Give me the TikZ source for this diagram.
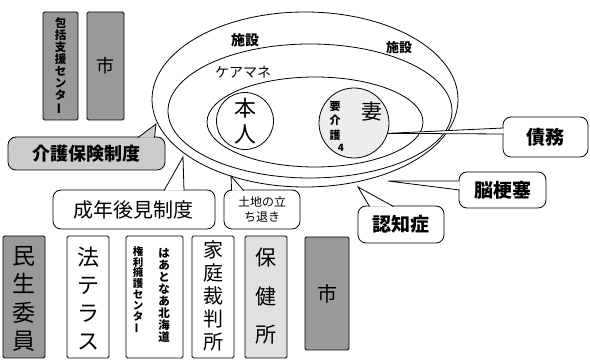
\documentclass[tikz,border=0pt]{standalone}
\usepackage{fontspec}
\setmainfont{Noto Sans CJK JP}
\usetikzlibrary{calc,shapes.geometric}
\definecolor{darkfill}{gray}{0.6}
\definecolor{midfill}{gray}{0.8}
\definecolor{lightfill}{gray}{0.88}
\definecolor{palefill}{gray}{0.93}
\newcommand{\tatebar}{\rotatebox[origin=c]{90}{ー}}
\newcommand{\calltail}[4]{\fill[#1] (#2) -- (#3) -- (#4) -- cycle; \draw (#2) -- (#3) -- (#4);}
\tikzset{
  tallbox/.style={draw, line width=0.8pt, rounded corners=1.5pt, inner sep=0pt, align=center},
  callbox/.style={draw, line width=0.8pt, rounded corners=8pt, inner sep=0pt, fill=white, align=center},
  ring/.style={draw, line width=0.8pt, ellipse, inner sep=0pt},
  roundring/.style={draw, line width=0.8pt, circle, inner sep=0pt},
  lbl/.style={inner sep=0pt, align=center},
}
\begin{document}
\begin{tikzpicture}[x=1pt,y=-1pt,line width=0.8pt]
\useasboundingbox (0,0) rectangle (590,363);
\fill[white] (0,0) rectangle (590,363);

% top boxes
\node[tallbox, fill=darkfill, minimum width=35pt, minimum height=108pt,
      font=\bfseries\fontsize{11.5}{12}\selectfont] (hokatsu) at (60.5,66)
      {包\\括\\支\\援\\セ\\ン\\タ\\\tatebar};
\node[tallbox, fill=darkfill, minimum width=37pt, minimum height=108pt,
      font=\fontsize{18}{20}\selectfont] (shiA) at (105.5,66) {市};

% nested ellipses
\node[ring, minimum width=306pt, minimum height=175pt] (outer) at (305,99.5) {};
\node[ring, minimum width=284pt, minimum height=134pt] (mid) at (310,111) {};
\node[ring, minimum width=216pt, minimum height=90pt] (inner) at (315,122) {};

\node[lbl, font=\bfseries\fontsize{14}{16}\selectfont] (shisetsuA) at (245,40) {施設};
\node[lbl, font=\bfseries\fontsize{13}{15}\selectfont] (shisetsuB) at (399,48) {施設};
\node[lbl, font=\fontsize{14}{16}\selectfont] (caremane) at (243,72) {ケアマネ};

% persons
\node[roundring, minimum size=57pt, font=\fontsize{22}{26}\selectfont, align=center] (honnin) at (245,121) {本\\人};
\node[roundring, fill=palefill, minimum size=70pt] (tsuma) at (354,123) {};
\node[lbl, font=\fontsize{21}{24}\selectfont] (tsumaL) at (372,112) {妻};
\node[lbl, font=\bfseries\fontsize{11}{14.5}\selectfont] (yokaigo) at (335,121) {要\\介\\護};
\node[lbl, font=\bfseries\fontsize{10}{12}\selectfont] (yokaigoN) at (341,148) {4};

% callouts
\node[callbox, fill=midfill, minimum width=157pt, minimum height=33pt,
      font=\bfseries\fontsize{18}{20}\selectfont] (kaigo) at (86.5,153.5) {介護保険制度};
\node[callbox, minimum width=162pt, minimum height=39pt,
      font=\fontsize{20}{22}\selectfont] (seinen) at (134,209.5) {成年後見制度};
\node[callbox, minimum width=76pt, minimum height=39pt,
      font=\fontsize{12}{15}\selectfont] (tochi) at (262,209.5) {土地の立\\ち退き};
\node[callbox, minimum width=86pt, minimum height=37pt,
      font=\bfseries\fontsize{19}{21}\selectfont] (ninchi) at (401,224.5) {認知症};
\node[callbox, minimum width=87pt, minimum height=36pt,
      font=\bfseries\fontsize{19}{21}\selectfont] (noukou) at (502.5,190) {脳梗塞};
\node[callbox, minimum width=85pt, minimum height=40pt,
      font=\bfseries\fontsize{19}{21}\selectfont] (saimu) at (545.5,137) {債務};

\coordinate (kaigoTip) at (156,124);
\coordinate (seinenTip) at (183,157);
\coordinate (tochiTip) at (231,176);
\coordinate (ninchiTip) at (358,187);
\coordinate (noukouTip) at (388,181);
\coordinate (saimuTip) at (tsuma.-17);

\calltail{midfill}{$(kaigo.north)+(51.5,1)$}{kaigoTip}{$(kaigo.north)+(68,1)$}
\calltail{white}{$(seinen.north)+(30,1)$}{seinenTip}{$(seinen.north)+(50,1)$}
\calltail{white}{$(tochi.north west)+(8,1)$}{tochiTip}{$(tochi.north west)+(20,1)$}
\calltail{white}{$(ninchi.north west)+(12,1)$}{ninchiTip}{$(ninchi.north west)+(36,1)$}
\calltail{white}{$(noukou.west)+(1,-9)$}{noukouTip}{$(noukou.west)+(1,0)$}
\calltail{white}{$(saimu.west)+(1,-9)$}{saimuTip}{$(saimu.west)+(1,-3)$}

% bottom row
\node[tallbox, fill=darkfill, minimum width=42pt, minimum height=122pt] (minsei) at (24,297) {};
\node[lbl, font=\fontsize{23}{28.5}\selectfont] (minseiL) at (24,299) {民\\生\\委\\員};
\node[tallbox, minimum width=42pt, minimum height=122pt] (hou) at (88,297) {};
\node[lbl, font=\fontsize{22}{28}\selectfont] (houL) at (88,299) {法\\テ\\ラ\\ス};
\node[tallbox, minimum width=57pt, minimum height=122pt] (heart) at (154.5,297) {};
\node[lbl, font=\bfseries\fontsize{11.5}{12}\selectfont] (heartR) at (164,295) {は\\あ\\と\\な\\あ\\北\\海\\道};
\node[lbl, font=\bfseries\fontsize{10.5}{10.8}\selectfont] (heartL) at (138,290) {権\\利\\擁\\護\\セ\\ン\\タ\\\tatebar};
\node[tallbox, minimum width=42pt, minimum height=122pt] (katei) at (213,297) {};
\node[lbl, font=\fontsize{20}{23}\selectfont] (kateiL) at (213,296) {家\\庭\\裁\\判\\所};
\node[tallbox, fill=lightfill, minimum width=42pt, minimum height=122pt] (hoken) at (266,297) {};
\node[lbl, font=\fontsize{21}{38.5}\selectfont] (hokenL) at (266,296.5) {保\\健\\所};
\node[tallbox, fill=darkfill, minimum width=44pt, minimum height=113pt,
      font=\fontsize{20}{22}\selectfont] (shiB) at (327,293.5) {市};
\end{tikzpicture}
\end{document}
